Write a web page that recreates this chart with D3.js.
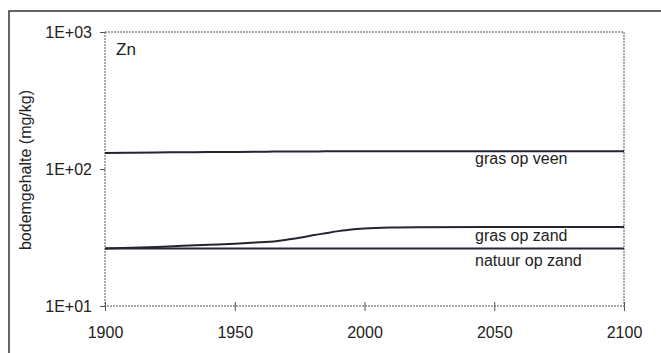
<!DOCTYPE html>
<html><head><meta charset="utf-8">
<script src="https://cdn.jsdelivr.net/npm/d3@7"></script>
<style>body{margin:0;background:#fff}svg{display:block}text{font-family:"Liberation Sans",Arial,sans-serif;fill:#222}</style>
</head><body><svg id="c" width="661" height="353"></svg>
<script>
const years = [1900,1910,1920,1930,1940,1950,1960,1965,1970,1975,1980,1985,1990,1995,2000,2010,2020,2050,2100];
const grasOpVeen = [131,131.5,132,132.5,133,133.3,133.7,134,134.2,134.3,134.4,134.5,134.5,134.5,134.5,134.5,134.5,134.5,134.5];
const grasOpZand = [26.3,26.6,27.0,27.5,28.0,28.5,29.2,29.6,30.5,31.5,32.8,34.0,35.2,36.2,36.8,37.4,37.6,37.7,37.7];
const natuurOpZand = [26.3,26.3,26.3,26.3,26.3,26.3,26.3,26.3,26.3,26.3,26.3,26.3,26.3,26.3,26.3,26.3,26.3,26.3,26.3];
const seriesNames = ["gras op veen","gras op zand","natuur op zand"];
const yTicks = [10,100,1000];
const yTickLabels = ["1E+01","1E+02","1E+03"];
const xTicks = [1900,1950,2000,2050,2100];

const svg = d3.select("#c");
const L=105, R=624, T=32, B=306;
const x = d3.scaleLinear().domain([1900,2100]).range([L,R]);
const y = d3.scaleLog().domain([10,1000]).range([B,T]);

// outer frame
svg.append("path").attr("d","M9,353 L9,11 L661,11").attr("fill","none").attr("stroke","#333").attr("stroke-width",1.5);

// plot border dotted
const dash="2,1";
svg.append("rect").attr("x",L).attr("y",T).attr("width",R-L).attr("height",B-T)
  .attr("fill","none").attr("stroke","#555").attr("stroke-width",1).attr("stroke-dasharray",dash);

// y axis
const yAxis = d3.axisLeft(y).tickValues(yTicks).tickFormat((d,i)=>yTickLabels[i]).tickSize(5).tickPadding(8);
const gy = svg.append("g").attr("transform",`translate(${L},0)`).call(yAxis);
gy.select(".domain").remove();
gy.selectAll("line").attr("stroke","#555");
gy.selectAll("text").style("font-size","16px").attr("fill","#222");

// x axis with cross ticks
const xAxis = d3.axisBottom(x).tickValues(xTicks).tickFormat(d3.format("d")).tickSizeInner(5).tickSizeOuter(0).tickPadding(16);
const gx = svg.append("g").attr("transform",`translate(0,${B})`).call(xAxis);
gx.select(".domain").remove();
gx.selectAll("line").attr("y1",-4).attr("stroke","#555");
gx.selectAll("text").style("font-size","16px").attr("fill","#222");

// y title
svg.append("text").attr("transform","translate(31,170) rotate(-90)").attr("text-anchor","middle")
  .style("font-size","16px").text("bodemgehalte (mg/kg)");

// Zn
svg.append("text").attr("x",116).attr("y",55).style("font-size","17px").text("Zn");

// lines
const line = d3.line().x((d,i)=>x(years[i])).y(d=>y(d)).curve(d3.curveMonotoneX);
[grasOpVeen,grasOpZand,natuurOpZand].forEach(s=>{
  svg.append("path").attr("d",line(s)).attr("fill","none").attr("stroke","#2a2230").attr("stroke-width",2);
});

// labels
const labY = [164,241,266];
seriesNames.forEach((n,i)=>{
  svg.append("text").attr("x",475).attr("y",labY[i]).style("font-size","16px").text(n);
});
</script></body></html>
